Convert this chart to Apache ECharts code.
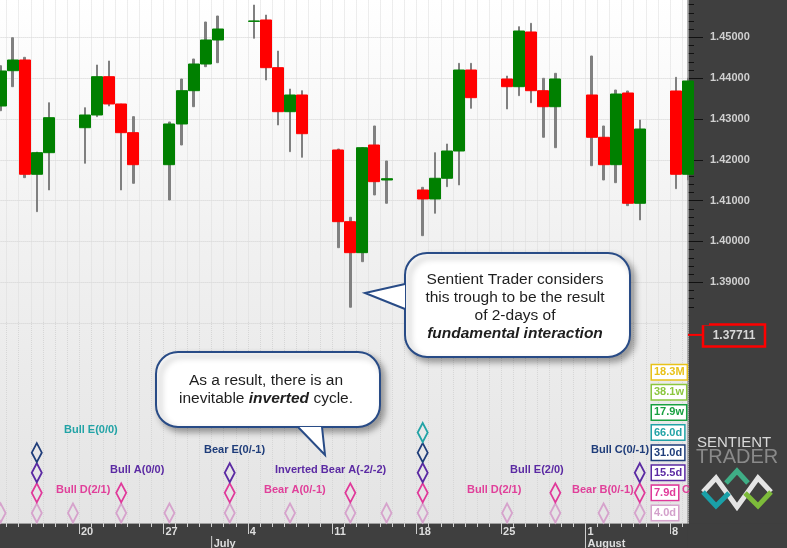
<!DOCTYPE html>
<html><head><meta charset="utf-8">
<script src="https://cdn.jsdelivr.net/npm/echarts@6/dist/echarts.min.js"></script>
<style>html,body{margin:0;padding:0;background:#3f3f3f}#c{width:787px;height:548px}</style>
</head><body><div id="c"></div>
<script>
// ---------------- DATA ----------------
const candleDates = ['2011-06-13','2011-06-14','2011-06-15','2011-06-16','2011-06-17',
  '2011-06-20','2011-06-21','2011-06-22','2011-06-23','2011-06-24',
  '2011-06-27','2011-06-28','2011-06-29','2011-06-30','2011-07-01',
  '2011-07-04','2011-07-05','2011-07-06','2011-07-07','2011-07-08',
  '2011-07-11','2011-07-12','2011-07-13','2011-07-14','2011-07-15',
  '2011-07-18','2011-07-19','2011-07-20','2011-07-21','2011-07-22',
  '2011-07-25','2011-07-26','2011-07-27','2011-07-28','2011-07-29',
  '2011-08-01','2011-08-02','2011-08-03','2011-08-04','2011-08-05',
  '2011-08-08','2011-08-09'];
const opens  = [1.43317,1.44182,1.44444,1.41645,1.42174, 1.42786,1.43097,1.44035,1.43367,1.42664,
  1.41880,1.42877,1.43692,1.44346,1.44934, 1.45390,1.45424,1.44256,1.43178,1.43587,
  1.42240,1.40484,1.39725,1.42362,1.41505, 1.41260,1.41040,1.41547,1.42215,1.44199,
  1.43979,1.43790,1.45130,1.43692,1.43300, 1.43587,1.42551,1.41880,1.43636,1.40935,
  1.43685,1.41645];
const closes = [1.44175,1.44444,1.41645,1.42174,1.43031, 1.43097,1.44035,1.43367,1.42664,1.41880,
  1.42877,1.43692,1.44346,1.44934,1.45203, 1.45400,1.44256,1.43178,1.43587,1.42639,
  1.40484,1.39725,1.42296,1.41464,1.41537, 1.41040,1.41547,1.42215,1.44199,1.43521,
  1.43790,1.45154,1.43692,1.43300,1.43979, 1.42551,1.41880,1.43611,1.40935,1.42754,
  1.41645,1.43930];
const lows   = [1.43202,1.43790,1.41562,1.40729,1.41260, 1.41914,1.43056,1.43317,1.41260,1.41424,
  1.41015,1.42362,1.43300,1.44280,1.44378, 1.44976,1.43954,1.42852,1.42198,1.42061,
  1.39847,1.38388,1.39504,1.41138,1.40935, 1.40141,1.40690,1.41341,1.41383,1.43261,
  1.43244,1.43570,1.43398,1.42551,1.42296, 1.41855,1.41505,1.41439,1.40876,1.40526,
  1.41292,1.41505];
const highs  = [1.44304,1.44990,1.44510,1.42190,1.43398, 1.43276,1.44322,1.44420,1.43367,1.43056,
  1.42926,1.43979,1.44469,1.45375,1.45522, 1.45791,1.45546,1.44664,1.43734,1.43692,
  1.42264,1.40592,1.42296,1.42828,1.41971, 1.41326,1.42174,1.42387,1.44363,1.44363,
  1.44052,1.45260,1.45343,1.43996,1.44118, 1.44542,1.42828,1.43709,1.43685,1.42975,
  1.44020,1.44000];

// cycle trough markers (dates) per cycle length
const cycleNames = ['4.0d','7.9d','15.5d','31.0d','66.0d','17.9w','38.1w','18.3M'];
const cycle4d  = ['2011-06-13','2011-06-16','2011-06-19','2011-06-23','2011-06-27','2011-07-02','2011-07-07',
                  '2011-07-12','2011-07-15','2011-07-18','2011-07-25','2011-07-29','2011-08-02','2011-08-05'];
const cycle8d  = ['2011-06-16','2011-06-23','2011-07-02','2011-07-12','2011-07-18','2011-07-29','2011-08-05'];
const cycle15d = ['2011-06-16','2011-07-02','2011-07-18','2011-08-05'];
const cycle31d = ['2011-06-16','2011-07-18'];
const cycle66d = ['2011-07-18'];
const cycleDates = [cycle4d, cycle8d, cycle15d, cycle31d, cycle66d];

const cycleLabelTexts = ['Bull E(0/0)','Bull D(2/1)','Bull A(0/0)','Bear E(0/-1)','Inverted Bear A(-2/-2)',
  'Bear A(0/-1)','Bull D(2/1)','Bull E(2/0)','Bear B(0/-1)','Bull C(0/-1)','C'];
const cycleLabelLevels = [4,1,2,3,2,1,1,2,1,3,1];

const currentPrice = 1.37711;
const bubble1Text = 'Sentient Trader considers\nthis trough to be the result\nof 2-days of\n{bi|fundamental interaction}';
const bubble2Text = 'As a result, there is an\ninevitable {bi|inverted} cycle.';

// ---------------- LAYOUT / STYLE ----------------
const levelColors = ['#d6a3cc','#e0399a','#5b2aa3','#1f3d7a','#22a3a6','#18a040','#8cc63f','#e8c21a'];
const labelX = [64,56,110,204,275,264,467,510,572,591,682];
const FONT = '"Liberation Sans", Arial, sans-serif';
const ORIGIN = Date.UTC(2011,5,20);
const dayIdx = s => (Date.parse(s) - ORIGIN) / 86400000;
const days = candleDates.map(dayIdx);
const X0 = -7, X1 = 50.5;
const GL = -5.42, GR = 99;

const chart = echarts.init(document.getElementById('c'));

const series = [
  { type:'candlestick', xAxisIndex:0, yAxisIndex:0, encode:{x:0, y:[1,2,3,4]}, clip:false, silent:true,
    barWidth:2,
    data: days.map((d,i)=>[d+0.5, lows[i], highs[i], lows[i], highs[i]]),
    itemStyle:{color:'#808080', color0:'#808080', borderColor:'#808080', borderColor0:'#808080', borderWidth:1} },
  { type:'candlestick', xAxisIndex:0, yAxisIndex:0, encode:{x:0, y:[1,2,3,4]}, clip:false, silent:true,
    barWidth:11.5,
    data: days.map((d,i)=>[d+0.5, opens[i], closes[i], Math.min(opens[i],closes[i]), Math.max(opens[i],closes[i])]),
    itemStyle:{color:'#008000', color0:'#ff0000', borderColor:'#008000', borderColor0:'#ff0000', borderWidth:1} }
];
cycleDates.forEach((arr,k)=>{
  series.push({ type:'scatter', xAxisIndex:1, yAxisIndex:1, symbol:'diamond', symbolSize:[10,19], clip:false, silent:true,
    data: arr.map(s=>[dayIdx(s)+0.5, k+0.5]),
    itemStyle:{color:'rgba(0,0,0,0)', borderColor:levelColors[k], borderWidth:2, opacity:1} });
});

const monthDayLabel = v => {
  if (!Number.isInteger(v) || v === X0) return '';
  const dt = new Date(ORIGIN + v*86400000);
  if (dt.getUTCDay() !== 1) return '';
  const dd = dt.getUTCDate();
  if (dd === 1) return dd + '\n' + ['January','February','March','April','May','June','July','August','September','October','November','December'][dt.getUTCMonth()];
  return String(dd);
};

chart.setOption({
  animation:false,
  backgroundColor:'#3f3f3f',
  grid:[
    {left:GL, right:GR, top:-3.53, bottom:224.9, containLabel:false, outerBoundsMode:'none'},
    {left:GL, right:GR, top:322, bottom:25, containLabel:false, outerBoundsMode:'none'}
  ],
  xAxis:[
    {gridIndex:0, type:'value', min:X0, max:X1, interval:1,
     axisLine:{show:false, onZero:false}, axisTick:{show:false}, axisLabel:{show:false},
     splitLine:{show:true, lineStyle:{color:'#dcdcdc', type:'dotted', width:1}}},
    {gridIndex:1, type:'value', min:X0, max:X1, interval:7,
     axisLine:{show:true, onZero:false, lineStyle:{color:'#a0a0a0', width:1}},
     axisTick:{show:true, length:11, lineStyle:{color:'#d0d0d0'}},
     minorTick:{show:true, splitNumber:7, length:4, lineStyle:{color:'#d0d0d0'}},
     splitLine:{show:true, lineStyle:{color:'#d6d6d6', type:'dotted'}},
     minorSplitLine:{show:true, lineStyle:{color:'#d6d6d6', type:'dotted'}},
     axisLabel:{show:true, align:'left', margin:3, padding:[0,0,0,2], color:'#dedede', fontWeight:'bold',
       fontSize:11, fontFamily:FONT, lineHeight:12, formatter:monthDayLabel}}
  ],
  yAxis:[
    {gridIndex:0, type:'value', position:'right', min:1.38, max:1.46, interval:0.01,
     axisLine:{show:false, onZero:false},
     axisTick:{show:true, length:15, lineStyle:{color:'#111'}},
     minorTick:{show:true, splitNumber:5, length:6, lineStyle:{color:'#111'}},
     splitLine:{show:true, lineStyle:{color:'#d2d2d2', type:'dotted'}},
     axisLabel:{margin:22, color:'#d0d0d0', fontWeight:'bold', fontSize:11, fontFamily:FONT,
       formatter: v => (v > 1.385 && v < 1.455) ? v.toFixed(5) : ''}},
    {gridIndex:1, type:'value', min:0, max:10, show:false, axisLine:{onZero:false}}
  ],
  series
});

// ---------------- ANNOTATIONS ----------------
const px = v => chart.convertToPixel({xAxisIndex:1}, v);
const pyL = v => chart.convertToPixel({yAxisIndex:1}, v);
const pyP = v => chart.convertToPixel({yAxisIndex:0}, v);
const plotRight = px(X1), axisY = pyL(0);

const g = [];
// plot background
g.push({type:'rect', z:-10, shape:{x:0, y:0, width:plotRight, height:axisY},
  style:{fill:{type:'linear', x:0, y:0, x2:0, y2:1, colorStops:[{offset:0,color:'#ffffff'},{offset:0.45,color:'#f1f1f1'},{offset:1,color:'#e4e4e4'}]}}});
// panel boundary
g.push({type:'line', z:1, shape:{x1:plotRight, y1:0, x2:plotRight, y2:axisY}, style:{stroke:'#9a9a9a', lineWidth:1.5}});
// cover lowest price ticks and bottom-right strip
g.push({type:'rect', z:20, shape:{x:plotRight+1, y:pyP(1.3835), width:20, height:pyP(1.3795)-pyP(1.3835)}, style:{fill:'#3f3f3f'}});
g.push({type:'rect', z:20, shape:{x:plotRight-0.5, y:axisY+0.5, width:787-plotRight+1, height:548-axisY}, style:{fill:'#3f3f3f'}});

// month markers
const jul1 = px(dayIdx('2011-07-01')), aug1 = px(dayIdx('2011-08-01'));
g.push({type:'line', z:21, shape:{x1:jul1, y1:axisY+13, x2:jul1, y2:548}, style:{stroke:'#d0d0d0', lineWidth:1}});
g.push({type:'line', z:21, shape:{x1:aug1, y1:axisY+11, x2:aug1, y2:548}, style:{stroke:'#d0d0d0', lineWidth:1}});
g.push({type:'text', z:21, x:jul1+2, y:axisY+15, style:{text:'July', font:'bold 11px '+FONT, fill:'#dedede', verticalAlign:'top'}});

// cycle labels
cycleLabelTexts.forEach((t,i)=>{
  const lv = cycleLabelLevels[i];
  g.push({type:'text', z:5, x:labelX[i], y:pyL(lv+0.5)-2.5,
    style:{text:t, font:'bold 11px '+FONT, fill: lv===1 ? '#e0409a' : levelColors[lv], verticalAlign:'middle'}});
});

// legend boxes
cycleNames.forEach((n,k)=>{
  g.push({type:'text', z:6, x:652, y:pyL(k+0.5),
    style:{text:n, font:'bold 11px '+FONT, lineHeight:11, fill: k===0 ? '#d3a0cb' : levelColors[k], verticalAlign:'middle',
      backgroundColor:'#ffffff', borderColor:levelColors[k], borderWidth:1.5, padding:[2,2,1,2]}});
});

// current price marker
const cpY = pyP(currentPrice);
g.push({type:'line', z:6, shape:{x1:plotRight, y1:cpY, x2:703, y2:cpY}, style:{stroke:'#ff0000', lineWidth:2}});
g.push({type:'rect', z:6, shape:{x:703, y:cpY-10.5, width:62, height:22}, style:{fill:'#3f3f3f', stroke:'#ff0000', lineWidth:2.5}});
g.push({type:'text', z:7, x:734, y:cpY+0.5, style:{text:currentPrice.toFixed(5), font:'bold 12px '+FONT, fill:'#d8d8d8', align:'center', verticalAlign:'middle'}});

// speech bubbles
function bubble(rect, tri, text, cx, cy){
  g.push({type:'rect', z:30, shape:{x:rect[0], y:rect[1], width:rect[2], height:rect[3], r:22},
    style:{fill:'#ffffff', stroke:'#284b86', lineWidth:2, shadowBlur:6, shadowOffsetX:4, shadowOffsetY:4, shadowColor:'rgba(0,0,0,0.35)'}});
  g.push({type:'polygon', z:31, shape:{points:tri}, style:{fill:'#ffffff'}});
  g.push({type:'polyline', z:32, shape:{points:[tri[0],tri[1],tri[2]]}, style:{stroke:'#284b86', lineWidth:2, fill:null}});
  g.push({type:'text', z:33, x:cx, y:cy, style:{text:text, font:'15.5px '+FONT, fill:'#1e1e1e', align:'center', verticalAlign:'middle', lineHeight:18,
    rich:{bi:{font:'italic bold 15.5px '+FONT, fill:'#1e1e1e', lineHeight:18}}}});
}
bubble([405,253,225,104], [[405,284],[365,293],[405,309]], bubble1Text, 515, 307);
bubble([156,352,224,75], [[298,427],[325,455],[322,427]], bubble2Text, 266, 390);

// logo
g.push({type:'text', z:6, x:697, y:443, style:{text:'SENTIENT', font:'15px '+FONT, fill:'#d9d9d9', verticalAlign:'middle'}});
g.push({type:'text', z:6, x:696, y:457, style:{text:'TRADER', font:'20px '+FONT, fill:'#8a8a8a', verticalAlign:'middle'}});
g.push({type:'polyline', z:6, shape:{points:[[703,492],[716,478],[737,507],[758,478],[771,492]]}, style:{stroke:'#e4e4e4', lineWidth:5, fill:null}});
g.push({type:'polyline', z:6, shape:{points:[[703,492],[716,506],[729,493]]}, style:{stroke:'#1aa0a8', lineWidth:5, fill:null}});
g.push({type:'polyline', z:6, shape:{points:[[771,492],[758,506],[745,493]]}, style:{stroke:'#7dbb3a', lineWidth:5, fill:null}});
g.push({type:'polyline', z:6, shape:{points:[[726,483],[737,471],[748,483]]}, style:{stroke:'#3fae86', lineWidth:5, fill:null}});

chart.setOption({graphic: g});
</script>
</body></html>
